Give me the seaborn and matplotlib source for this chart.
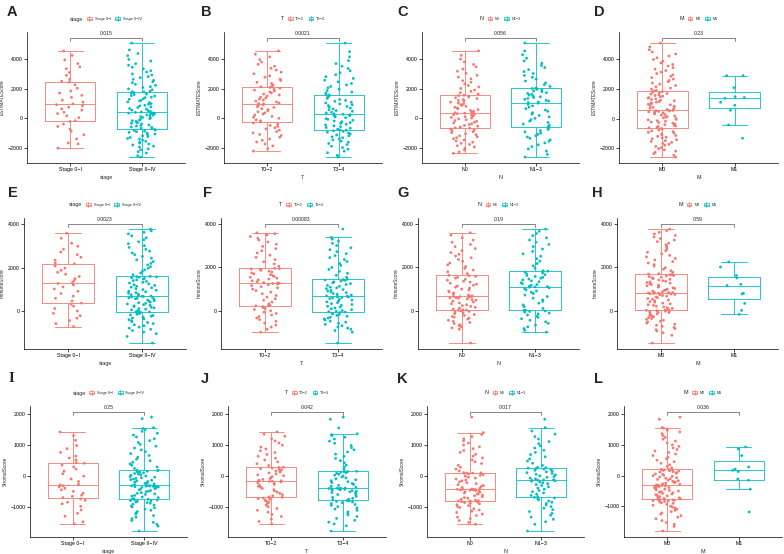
import numpy as np
import pandas as pd
import matplotlib
matplotlib.use("Agg")
import matplotlib.pyplot as plt
import seaborn as sns
from matplotlib.legend_handler import HandlerBase
from matplotlib.patches import Rectangle
from matplotlib.lines import Line2D
from matplotlib.ticker import MultipleLocator

sns.set_theme(style="ticks")
plt.rcParams["font.family"] = ["Liberation Sans", "DejaVu Sans"]

RED = "#F8766D"
TEAL = "#00BFC4"

# ---------------- categories ----------------
stage_levels = ["Stage 0\u2212I", "Stage II\u2212IV"]
t_levels = ["T0\u22122", "T3\u22124"]
n_levels = ["N0", "N1\u22123"]
m_levels = ["M0", "M1"]

# ---------------- p-values ----------------
estimate_p = ["0.015", "0.0021", "0.056", "0.23"]
immune_p = ["0.0023", "0.00083", "0.19", "0.59"]
stromal_p = ["0.25", "0.042", "0.017", "0.036"]

# ---------------- ESTIMATEScore ----------------
est_stage_0I = [-2000, -1720, -1650, -1380, -1100, -860, -720, -540, -380, -200,
                -150, 60, 180, 330, 420, 560, 640, 760, 850, 930,
                980, 1100, 1240, 1420, 1560, 1710, 1850, 2040, 2260, 2450,
                2510, 2650, 2900, 3100, 3350, 3480, 3700, 3950, 4250, 4550]
est_stage_2IV = [-2600, -2510, -2330, -2240, -2110, -2050, -1930, -1870, -1790, -1720, -1660, -1590, -1540, -1460,
                 -1390, -1350, -1280, -1220, -1170, -1090, -1050, -980, -940, -890, -850, -810, -775,
                 -745, -690, -660, -600, -570, -510, -470, -440, -370, -330, -290, -260, -190, -150,
                 -120, -50, -10, 40, 70, 130, 160, 220, 240, 300, 330, 360, 370, 405,
                 435, 470, 530, 560, 630, 670, 740, 780, 850, 890, 960, 1000, 1070, 1110,
                 1180, 1210, 1290, 1320, 1400, 1430, 1510, 1540, 1610, 1640, 1710, 1730, 1775,
                 1805, 1840, 1930, 1990, 2090, 2140, 2240, 2300, 2410, 2470, 2570, 2640, 2750, 2820,
                 2930, 3000, 3130, 3220, 3350, 3450, 3590, 3690, 3870, 3980, 4230, 4380, 4620, 5080]
est_t_02 = [-2200, -2030, -1850, -1720, -1590, -1470, -1380, -1260, -1150, -1080, -970, -880, -790, -700,
            -630, -540, -470, -380, -300,
            -240, -160, -90, 10, 80, 140, 230, 300, 380, 450, 520, 600, 660, 740, 800, 870, 930, 970,
            1000,
            1040, 1110, 1170, 1240, 1300, 1380, 1440, 1510, 1580, 1640, 1720, 1790, 1850, 1910, 1980,
            2040, 2090, 2130,
            2170, 2250, 2360, 2440, 2560, 2650, 2780, 2870, 3010, 3120, 3260, 3380, 3520, 3650, 3800,
            3970, 4150, 4330, 4550]
est_t_34 = [-2600, -2480, -2310, -2200, -2070, -1960, -1870, -1760, -1690, -1600, -1530, -1440, -1380,
            -1300, -1240, -1170, -1110, -1040, -980, -930, -870, -830, -790,
            -770, -720, -660, -610, -550, -500, -440, -390, -330, -280, -220, -170, -120, -60, -10,
            50, 100, 150, 190, 230, 260, 290,
            310, 370, 420, 480, 530, 590, 640, 700, 760, 810, 870, 930, 980, 1040, 1100, 1160, 1220,
            1280, 1350, 1420, 1490, 1580,
            1620, 1700, 1790, 1880, 1970, 2070, 2160, 2260, 2360, 2470, 2580, 2700, 2820, 2950, 3080,
            3220, 3370, 3520, 3700, 3900, 4150, 4500, 5080]
est_n_0 = [-2350, -2250, -2130, -2010, -1920, -1840, -1750, -1680, -1600, -1520, -1450, -1370, -1300,
           -1240, -1170, -1100, -1030, -960, -890, -830, -770, -710, -660,
           -630, -580, -520, -470, -410, -360, -300, -250, -190, -140, -90, -30, 20, 70, 120, 170,
           210, 250, 290, 320, 345, 360,
           380, 430, 490, 540, 600, 650, 710, 760, 820, 880, 930, 990, 1040, 1100, 1160, 1220, 1280,
           1340, 1400, 1450, 1500, 1540,
           1560, 1650, 1740, 1830, 1920, 2020, 2120, 2220, 2330, 2440, 2550, 2670, 2790, 2910, 3040,
           3180, 3330, 3480, 3640, 3810, 4000, 4250, 4550]
est_n_13 = [-2600, -2420, -2200, -2050, -1900, -1770, -1650, -1540, -1440, -1340, -1250, -1160, -1070,
            -990, -900, -820, -740, -670, -600,
            -560, -460, -370, -270, -180, -80, 10, 110, 200, 290, 390, 480, 570, 660, 760, 850, 950, 1030,
            1070,
            1110, 1170, 1230, 1290, 1350, 1410, 1460, 1520, 1570, 1630, 1690, 1740, 1800, 1850, 1910,
            1960, 2000, 2020,
            2050, 2160, 2280, 2400, 2520, 2650, 2780, 2900, 3030, 3160, 3290, 3430, 3570, 3720, 3880,
            4060, 4300, 4550, 5080]
est_m_0 = [-2600, -2480, -2370, -2280, -2200, -2110, -2030, -1960, -1880, -1810, -1740, -1680, -1610, -1550,
           -1490, -1430, -1370, -1310, -1260, -1200, -1150, -1090, -1040, -990, -930, -880, -830, -770,
           -720, -670,
           -630, -590, -540, -500, -450, -410, -360, -320, -270, -230, -180, -140, -90, -50, 0, 50, 90,
           140, 180, 230, 270, 310, 350, 390, 420, 450, 480, 510, 530, 550,
           570, 610, 660, 700, 750, 790, 840, 880, 930, 970, 1020, 1060, 1110, 1150, 1200, 1240, 1290,
           1330, 1380, 1420, 1470, 1510, 1560, 1600, 1650, 1690, 1740, 1780, 1820, 1860,
           1900, 1980, 2060, 2150, 2230, 2320, 2400, 2490, 2580, 2670, 2760, 2850, 2950, 3040, 3140,
           3240, 3340, 3440, 3550, 3650, 3760, 3870, 3990, 4110, 4230, 4360, 4500, 4650, 4850, 5100]
est_m_1 = [2900, 2900, 2090, 1480, 1420, 1370, 1100, 900, 560, -430, -1330]

# ---------------- ImmuneScore ----------------
imm_stage_0I = [-700, -560, -420, -310, -200, -90, 20, 130, 240, 330,
                380, 480, 600, 700, 820, 920, 1030, 1120, 1210, 1280,
                1320, 1410, 1500, 1600, 1700, 1790, 1880, 1980, 2080, 2180,
                2220, 2350, 2480, 2600, 2720, 2850, 2980, 3120, 3350, 3580]
imm_stage_2IV = [-1450, -1150, -1020, -950, -880, -820, -770, -720, -660, -610, -560, -510, -470, -420,
                 -380, -340, -300, -260, -220, -190, -160, -130, -100, -80, -60, -40, -25,
                 -15, 10, 40, 70, 100, 130, 160, 190, 220, 250, 280, 310, 340, 370, 400, 430, 460, 490,
                 520, 550, 580, 600, 620, 640, 660, 680, 695, 705,
                 720, 760, 790, 830, 860, 900, 930, 970, 1000, 1040, 1080, 1110, 1150, 1190, 1220, 1260,
                 1300, 1330, 1370, 1410, 1440, 1480, 1510, 1540, 1560, 1580, 1595,
                 1610, 1680, 1750, 1830, 1900, 1980, 2050, 2130, 2200, 2280, 2360, 2440, 2520, 2600, 2680,
                 2760, 2840, 2930, 3010, 3100, 3190, 3280, 3370, 3460, 3550, 3620, 3690, 3770]
imm_t_02 = [-950, -820, -720, -630, -540, -460, -380, -310, -240, -170, -100, -40, 20, 80, 130, 170,
            210, 240, 255,
            270, 340, 420, 500, 570, 650, 720, 800, 870, 940, 1010, 1070, 1120, 1170, 1210, 1240, 1265,
            1280,
            1290,
            1310, 1350, 1390, 1430, 1470, 1510, 1550, 1590, 1630, 1670, 1710, 1750, 1790, 1830, 1870,
            1900, 1930, 1945,
            1960, 2060, 2160, 2260, 2360, 2460, 2560, 2660, 2760, 2860, 2960, 3060, 3160, 3250, 3330,
            3410, 3480, 3540, 3580]
imm_t_34 = [-1450, -950, -880, -820, -770, -720, -660, -600, -550, -500, -450, -400, -350, -310, -270,
            -230, -190, -150, -120, -90, -60, -35, -15,
            -5, 30, 70, 110, 150, 190, 230, 270, 310, 350, 390, 430, 470, 510, 550, 580, 610, 630, 650,
            665, 675, 685,
            700, 740, 780, 810, 850, 880, 920, 960, 990, 1030, 1070, 1100, 1140, 1180, 1220, 1260, 1300,
            1340, 1380, 1410, 1430, 1445,
            1460, 1550, 1640, 1730, 1820, 1910, 2000, 2090, 2180, 2270, 2360, 2450, 2540, 2630, 2720,
            2810, 2900, 3000, 3100, 3200, 3290, 3370, 3750]
imm_n_0 = [-1450, -820, -760, -710, -660, -610, -560, -510, -460, -410, -360, -310, -270, -230, -190,
           -150, -110, -70, -40, -10, 20, 40, 55,
           65, 100, 140, 180, 220, 260, 300, 340, 380, 420, 460, 500, 530, 560, 590, 610, 630, 650, 665,
           675, 680, 688,
           695, 740, 790, 830, 880, 920, 970, 1010, 1060, 1100, 1150, 1190, 1240, 1280, 1330, 1370, 1420,
           1460, 1510, 1550, 1590, 1625,
           1640, 1720, 1800, 1880, 1960, 2040, 2120, 2200, 2280, 2360, 2440, 2520, 2600, 2680, 2770,
           2860, 2950, 3050, 3150, 3250, 3350, 3470, 3580]
imm_n_13 = [-950, -870, -790, -710, -630, -550, -480, -410, -340, -280, -220, -170, -120, -80, -40, -10,
            15, 30, 45,
            55, 130, 210, 290, 370, 450, 520, 600, 670, 740, 810, 870, 930, 980, 1030, 1070, 1100, 1110,
            1120,
            1140, 1180, 1220, 1260, 1300, 1350, 1390, 1430, 1470, 1510, 1550, 1590, 1630, 1670, 1710,
            1750, 1790, 1830,
            1850, 1960, 2070, 2180, 2290, 2400, 2510, 2620, 2730, 2840, 2950, 3050, 3150, 3250, 3350,
            3450, 3550, 3650, 3750]
imm_m_0 = [-1450, -1100, -980, -900, -840, -790, -740, -690, -640, -590, -540, -490, -450, -410, -370,
           -330, -290, -250, -210, -180, -150, -120, -90, -60, -40, -20, 0, 15, 30, 45,
           55, 90, 130, 160, 200, 230, 270, 300, 340, 370, 410, 440, 480, 510, 550, 580, 620, 650, 690,
           720, 750, 770, 790, 805, 815, 825, 835, 840, 845, 848,
           852, 890, 920, 950, 980, 1010, 1040, 1070, 1100, 1130, 1160, 1190, 1220, 1250, 1280, 1310,
           1340, 1370, 1400, 1430, 1460, 1490, 1520, 1550, 1580, 1610, 1630, 1660, 1680, 1695,
           1710, 1780, 1850, 1920, 1990, 2060, 2130, 2200, 2270, 2340, 2410, 2480, 2550, 2620, 2690,
           2760, 2830, 2900, 2970, 3040, 3110, 3180, 3250, 3320, 3390, 3460, 3530, 3600, 3680, 3750]
imm_m_1 = [2250, 2020, 1630, 1520, 1230, 1170, 820, 790, 360, 40, -140]

# ---------------- StromalScore ----------------
str_stage_0I = [-1550, -1480, -1300, -1210, -1100, -980, -900, -850, -790, -740,
                -700, -660, -620, -560, -500, -450, -400, -350, -320, -290,
                -270, -180, -100, -10, 70, 150, 220, 290, 350, 410,
                430, 520, 580, 640, 760, 880, 980, 1150, 1300, 1420]
str_stage_2IV = [-1780, -1620, -1560, -1500, -1440, -1380, -1330, -1280, -1230, -1190, -1150, -1110, -1070,
                 -1030, -1000, -970, -940, -910, -880, -860, -840, -820, -800, -790, -780, -770, -765,
                 -755, -730, -700, -680, -650, -630, -600, -580, -560, -540, -510, -490, -470, -450,
                 -430, -410, -390, -370, -360, -350, -340, -335, -330, -325, -320, -318, -315, -312,
                 -305, -280, -260, -240, -220, -200, -180, -160, -140, -120, -100, -80, -60, -40, -20, 0,
                 20, 40, 60, 80, 100, 120, 135, 150, 160, 170, 178,
                 185, 240, 290, 340, 390, 440, 490, 540, 600, 660, 720, 780, 840, 900, 960, 1020, 1080,
                 1140, 1200, 1260, 1320, 1380, 1440, 1500, 1530, 1560, 1850, 1900]
str_t_02 = [-1560, -1480, -1400, -1320, -1250, -1180, -1120, -1060, -1000, -950, -900, -860, -820, -790,
            -760, -740, -720, -705, -695,
            -685, -650, -610, -570, -530, -490, -450, -410, -370, -340, -310, -280, -250, -225, -200,
            -185, -175, -165,
            -160,
            -150, -120, -90, -60, -30, 0, 30, 60, 90, 120, 150, 170, 190, 210, 230, 245, 255, 265,
            275, 330, 390, 450, 510, 570, 630, 690, 750, 810, 870, 930, 990, 1060, 1130, 1200, 1280,
            1350, 1420]
str_t_34 = [-1790, -1620, -1560, -1500, -1440, -1380, -1320, -1270, -1220, -1170, -1120, -1080, -1040,
            -1000, -960, -930, -900, -870, -850, -830, -810, -800, -790,
            -780, -760, -730, -700, -670, -640, -610, -580, -560, -540, -520, -500, -480, -465, -450,
            -440, -430, -420, -415, -410, -405, -402,
            -398, -370, -340, -310, -280, -250, -220, -190, -160, -130, -100, -70, -40, -10, 20, 50, 80,
            100, 115, 125, 132, 138,
            145, 210, 280, 350, 420, 490, 560, 630, 700, 770, 840, 910, 980, 1050, 1120, 1190, 1250,
            1300, 1330, 1360, 1550, 1830, 1900]
str_n_0 = [-1560, -1500, -1440, -1380, -1330, -1280, -1230, -1180, -1140, -1100, -1060, -1020, -990, -960,
           -930, -900, -880, -860, -845, -830, -820, -812, -808,
           -800, -780, -750, -720, -700, -670, -640, -620, -590, -570, -550, -530, -510, -490, -475,
           -460, -450, -445, -440, -437, -434, -431,
           -428, -400, -370, -340, -310, -280, -250, -220, -190, -160, -130, -100, -70, -40, -10, 20, 45,
           65, 80, 90, 95, 98,
           105, 160, 220, 280, 340, 400, 460, 520, 580, 640, 700, 760, 820, 880, 940, 1000, 1060, 1130,
           1200, 1270, 1340, 1400, 1900]
str_n_13 = [-1780, -1560, -1480, -1400, -1330, -1270, -1210, -1150, -1090, -1040, -990, -940, -890, -850,
            -810, -770, -740, -710, -690,
            -670, -630, -590, -550, -510, -470, -430, -390, -350, -310, -280, -250, -220, -195, -170,
            -155, -145, -138,
            -130,
            -120, -95, -70, -45, -20, 5, 30, 55, 80, 105, 130, 155, 180, 200, 220, 240, 255, 265,
            275, 340, 410, 480, 550, 620, 690, 760, 830, 900, 970, 1040, 1110, 1190, 1270, 1350, 1450,
            1560, 1830]
str_m_0 = [-1800, -1650, -1580, -1520, -1460, -1400, -1350, -1300, -1250, -1210, -1170, -1130, -1090,
           -1050, -1020, -990, -960, -930, -900, -880, -860, -840, -820, -810, -800, -790, -785, -780,
           -775, -770,
           -760, -740, -720, -700, -680, -660, -640, -620, -600, -580, -560, -540, -520, -500, -480,
           -460, -440, -420, -400, -385, -370, -360, -350, -340, -335, -330, -325, -320, -316, -313,
           -307, -285, -265, -245, -225, -205, -185, -165, -145, -125, -105, -85, -65, -45, -25, -5, 15,
           35, 55, 75, 95, 115, 130, 145, 160, 170, 180, 188, 193, 197,
           205, 250, 300, 350, 400, 450, 500, 550, 600, 650, 700, 750, 800, 850, 900, 950, 1000, 1060,
           1120, 1180, 1240, 1300, 1360, 1420, 1470, 1510, 1540, 1560, 1830, 1900]
str_m_1 = [930, 860, 650, 280, 210, 170, 130, -110, -150, -440, -1180]

# ---------------- layout (pixels) ----------------
W, H = 784, 554
rows = [
    ("ESTIMATEScore", 2000, estimate_p,
     [est_stage_0I, est_stage_2IV, est_t_02, est_t_34, est_n_0, est_n_13, est_m_0, est_m_1]),
    ("ImmuneScore", 2000, immune_p,
     [imm_stage_0I, imm_stage_2IV, imm_t_02, imm_t_34, imm_n_0, imm_n_13, imm_m_0, imm_m_1]),
    ("StromalScore", 1000, stromal_p,
     [str_stage_0I, str_stage_2IV, str_t_02, str_t_34, str_n_0, str_n_13, str_m_0, str_m_1]),
]
cols = [("stage", stage_levels), ("T", t_levels), ("N", n_levels), ("M", m_levels)]
letters = ["ABCD", "EFGH", "IJKL"]

ax_rects = [
    [(27, 32, 185, 163), (224, 32, 382, 163), (422, 32, 579, 163), (619, 32, 778, 163)],
    [(24, 218, 186, 349), (221, 218, 382, 349), (418, 218, 579, 349), (617, 218, 778, 349)],
    [(30, 406, 187, 537), (228, 406, 386, 537), (427, 406, 584, 537), (624, 406, 782, 537)],
]
letter_pos = [[(7, 12), (201, 12), (397, 12), (594, 12)],
              [(8, 193), (203, 193), (397, 193), (592, 193)],
              [(8, 379), (201, 379), (397, 379), (594, 379)]]


class BoxKey(HandlerBase):
    def create_artists(self, legend, orig_handle, xdescent, ydescent, width, height, fontsize, trans):
        c = orig_handle.get_color()
        x0, y0 = -xdescent, -ydescent
        w, h = width, height
        rect = Rectangle((x0 + 0.1 * w, y0 + 0.1 * h), 0.8 * w, 0.8 * h, fill=False,
                         edgecolor=c, lw=0.5, transform=trans)
        med = Line2D([x0 + 0.1 * w, x0 + 0.9 * w], [y0 + 0.5 * h] * 2, color=c, lw=0.5, transform=trans)
        wh = Line2D([x0 + 0.5 * w] * 2, [y0 - 0.15 * h, y0 + 1.15 * h], color=c, lw=0.5, transform=trans)
        return [rect, med, wh]


np.random.seed(7)
fig = plt.figure(figsize=(W / 100, H / 100), dpi=100)
fig.patch.set_facecolor("white")

legends = []
for r, (ylabel, step, pvals, data) in enumerate(rows):
    for c, (var, levels) in enumerate(cols):
        x0, y0, x1, y1 = ax_rects[r][c]
        ax = fig.add_axes([x0 / W, 1 - y1 / H, (x1 - x0) / W, (y1 - y0) / H])
        va, vb = data[2 * c], data[2 * c + 1]
        df = pd.DataFrame({var: [levels[0]] * len(va) + [levels[1]] * len(vb),
                           "score": list(va) + list(vb)})
        sns.boxplot(data=df, x=var, y="score", hue=var, order=levels, hue_order=levels,
                    palette=[RED, TEAL], fill=False, showfliers=False, width=0.7,
                    linewidth=0.6, legend=False, ax=ax)
        sns.stripplot(data=df, x=var, y="score", hue=var, order=levels, hue_order=levels,
                      palette=[RED, TEAL], jitter=0.2, size=2.0, linewidth=0, legend=False,
                      ax=ax, zorder=3)
        lo, hi = df["score"].min(), df["score"].max()
        rng = hi - lo
        by = hi + 0.045 * rng
        tk = 0.025 * rng
        ax.plot([0, 0, 1, 1], [by - tk, by, by, by - tk], color="#555555", lw=0.5, zorder=4)
        ax.text(0.5, by + 0.015 * rng, pvals[c], ha="center", va="bottom", fontsize=3.7,
                color="#222222", clip_on=False)
        D = by - lo
        ax.set_ylim(lo - 0.05 * D, by + 0.05 * D)
        ax.set_xlim(-0.6, 1.6)
        ax.yaxis.set_major_locator(MultipleLocator(step))
        ax.set_facecolor("white")
        for s in ["top", "right"]:
            ax.spines[s].set_visible(False)
        for s in ["left", "bottom"]:
            ax.spines[s].set_linewidth(0.5)
            ax.spines[s].set_color("black")
        ax.tick_params(length=2, width=0.5, labelsize=3.8, pad=1.2, colors="black")
        ax.set_xlabel(var, fontsize=3.9, labelpad=1.5)
        ax.set_ylabel(ylabel, fontsize=3.4, labelpad=2)

        cx = (x0 + x1) / 2
        ly = y0 - 13
        leg = ax.legend(handles=[Line2D([], [], color=RED), Line2D([], [], color=TEAL)],
                        labels=levels, handler_map={Line2D: BoxKey()}, ncol=2, frameon=False,
                        fontsize=2.7, handlelength=1.6, handleheight=1.2, handletextpad=0.6,
                        columnspacing=1.0, borderpad=0, borderaxespad=0, loc="center",
                        bbox_to_anchor=(cx / W, 1 - ly / H), bbox_transform=fig.transFigure)
        tt = fig.text(0, 1 - ly / H, var, fontsize=3.9, ha="right", va="center")
        legends.append((leg, tt, cx, ly))

        lx, lyy = letter_pos[r][c]
        letter = letters[r][c]
        fam = ["Liberation Serif", "DejaVu Serif"] if letter == "I" else ["Liberation Sans", "DejaVu Sans"]
        fig.text(lx / W, 1 - lyy / H, letter, fontsize=10.5, fontweight="bold",
                 family=fam, ha="left", va="center")

fig.canvas.draw()
renderer = fig.canvas.get_renderer()
for leg, tt, cx, ly in legends:
    wl = leg.get_window_extent(renderer).width
    wt = tt.get_window_extent(renderer).width
    gap = 3
    total = wt + gap + wl
    left = cx - total / 2
    tt.set_x((left + wt) / W)
    leg.set_bbox_to_anchor(((left + wt + gap + wl / 2) / W, 1 - ly / H), transform=fig.transFigure)

fig.savefig("out.png", dpi=100, facecolor="white")
